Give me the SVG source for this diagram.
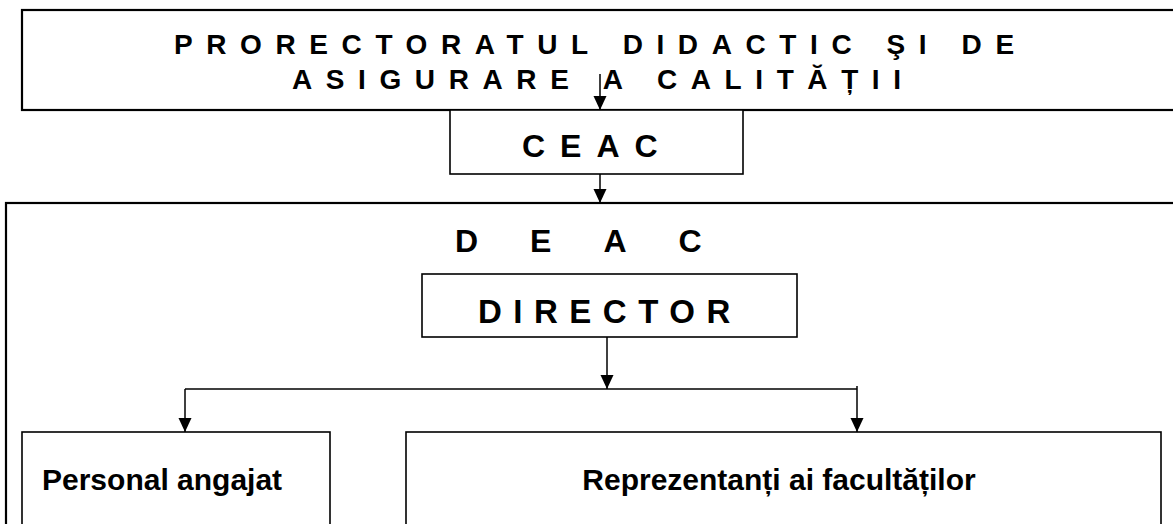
<svg xmlns="http://www.w3.org/2000/svg" width="1173" height="524" viewBox="0 0 1173 524">
<style>
  .box{fill:#fff;stroke:#000;stroke-width:1.6}
  .thick{stroke-width:2.2}
  .t{font-family:"Liberation Sans",Arial,sans-serif;font-weight:bold;fill:#000}
  .conn{fill:none;stroke:#000;stroke-width:1.5}
</style>
<defs>
  <marker id="ah" markerUnits="userSpaceOnUse" markerWidth="14" markerHeight="14" refX="14" refY="6.5" orient="auto">
    <path d="M0,0 L14,6.5 L0,13 Z" fill="#000"/>
  </marker>
</defs>
<rect width="1173" height="524" fill="#fff"/>
<g id="prorectorat">
  <rect class="box thick" x="22" y="10" width="1160" height="100"/>
  <text class="t" x="174" y="54" font-size="28" letter-spacing="13.6">PRORECTORATUL DIDACTIC ŞI DE</text>
  <text class="t" x="292" y="89" font-size="28" letter-spacing="13.6">ASIGURARE A CALITĂȚII</text>
</g>
<g id="ceac">
  <rect class="box" x="450" y="110" width="293" height="64"/>
  <text class="t" x="522" y="157" font-size="32" letter-spacing="15">CEAC</text>
</g>
<g id="deac">
  <rect class="box thick" x="6" y="203" width="1180" height="340"/>
  <text class="t" x="455" y="252" font-size="32" letter-spacing="52">DEAC</text>
</g>
<g id="director">
  <rect class="box" x="422" y="274" width="375" height="63"/>
  <text class="t" x="478" y="323" font-size="33" letter-spacing="11.5">DIRECTOR</text>
</g>
<g id="personal">
  <rect class="box" x="22" y="432" width="308" height="110"/>
  <text class="t" x="42" y="490" font-size="30">Personal angajat</text>
</g>
<g id="reprezentanti">
  <rect class="box" x="406" y="432" width="755" height="110"/>
  <text class="t" x="779" y="490" font-size="30" text-anchor="middle">Reprezentanți ai facultăților</text>
</g>
<g id="connectors">
  <line class="conn" x1="600" y1="74" x2="600" y2="110" marker-end="url(#ah)"/>
  <line class="conn" x1="600" y1="174" x2="600" y2="203" marker-end="url(#ah)"/>
  <line class="conn" x1="607" y1="337" x2="607" y2="389" marker-end="url(#ah)"/>
  <polyline class="conn" points="185,389 857,389"/>
  <line class="conn" x1="185" y1="389" x2="185" y2="432" marker-end="url(#ah)"/>
  <line class="conn" x1="857" y1="386" x2="857" y2="432" marker-end="url(#ah)"/>
</g>
</svg>
